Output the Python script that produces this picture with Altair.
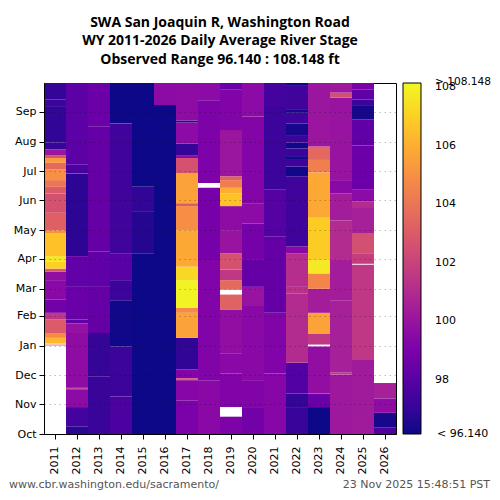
import altair as alt
import pandas as pd

# ---------------- data ----------------
years = list(range(2011, 2027))
month_names = ["Oct", "Nov", "Dec", "Jan", "Feb", "Mar", "Apr", "May", "Jun", "Jul", "Aug", "Sep"]
month_start_days = [0, 31, 61, 92, 123, 151, 182, 212, 243, 273, 304, 335]
legend_values = [98, 100, 102, 104, 106, 108]
stage_min, stage_max = 96.14, 108.148
range_labels = ["> 108.148", "< 96.140"]

# (start day of water year, daily average stage ft); None = missing
wy2011 = [(0, None), (92, 103.8), (93, None), (94, 106.3), (100, 104.8), (105, 103.0), (119, 101.5),
          (126, 98.8), (140, 99.5), (160, 99.8), (169, 103.0), (172, 107.0), (179, 107.6), (185, 106.6),
          (209, 105.0), (212, 103.2), (230, 102.6), (250, 103.0), (257, 104.0), (264, 105.0),
          (275, 103.6), (282, 105.3), (287, 102.7), (290, 100.1), (296, 97.0), (303, 96.9),
          (341, 97.2), (348, 97.0)]
wy2012 = [(0, 96.7), (8, 97.4), (28, 99.6), (46, 99.8), (47, 101.0), (49, 99.7), (105, 99.9),
          (115, 98.2), (119, 98.5), (153, 98.3), (185, 96.8), (271, 97.6), (280, 98.1)]
wy2013 = [(0, 97.1), (60, 97.0), (105, 98.4), (153, 98.2), (190, 98.4), (320, 98.6)]
wy2014 = [(0, 97.6), (39, 97.2), (91, 96.2), (139, 97.2), (160, 98.0), (188, 97.3), (323, 96.14)]
wy2015 = [(0, 96.14), (188, 96.6), (231, 96.9), (257, 96.14)]
wy2016 = [(0, 96.14), (342, 99.6)]
wy2017 = [(0, 99.0), (35, 99.4), (56, 103.3), (58, 99.3), (67, 96.9), (100, 105.6), (126, 104.8),
          (131, 108.0), (160, 107.2), (174, 105.8), (212, 104.9), (237, 103.0), (240, 105.6),
          (271, 102.6), (287, 99.5), (290, 97.0), (302, 99.6), (324, 96.5), (326, 99.7)]
wy2018 = [(0, 99.5), (56, 99.2), (181, 98.9), (256, None), (261, 99.1), (347, 99.6)]
wy2019 = [(0, 99.1), (18, None), (28, 99.2), (63, 99.5), (84, 99.8), (129, 103.3), (145, None),
          (150, 103.6), (160, 101.5), (171, 102.6), (188, 100.0), (212, 99.7), (237, 106.6),
          (250, 106.0), (256, 104.3), (264, 103.3), (268, 100.1), (316, 99.2), (358, 98.5)]
wy2020 = [(0, 98.8), (28, 99.2), (56, 99.5), (133, 100.0), (153, 98.4), (181, 98.9), (219, 99.6),
          (240, 99.3), (330, 99.6)]
wy2021 = [(0, 99.4), (63, 99.2), (126, 98.4), (205, 97.9), (254, 97.2), (340, 97.4)]
wy2022 = [(0, 97.1), (28, 97.0), (42, 97.8), (74, 101.0), (146, 101.3), (153, 101.1), (188, 99.5),
          (195, 97.3), (268, 96.2), (278, 97.2), (285, 96.3), (289, 97.2), (297, 96.2), (303, 97.2),
          (310, 96.3), (323, 97.3), (334, 96.3), (337, 97.3), (362, 96.2)]
wy2023 = [(0, 96.14), (28, 98.5), (42, 99.8), (91, None), (93, 101.5), (104, 105.6), (126, 100.4),
          (151, 104.6), (167, 107.7), (181, 106.9), (225, 105.8), (272, 104.4), (285, 103.5),
          (299, 100.1)]
wy2024 = [(0, 100.2), (62, 101.5), (64, 100.5), (139, 100.4), (181, 101.0), (222, 100.4),
          (250, 99.5), (264, 100.0), (350, 102.5), (355, 100.2)]
wy2025 = [(0, 100.3), (77, 101.5), (176, None), (177, 101.8), (188, 102.5), (209, 100.5),
          (236, 101.0), (242, 99.6), (254, 98.6), (300, 98.2), (327, 96.3), (342, 97.2),
          (348, 98.2), (358, 99.0)]
wy2026 = [(0, 97.6), (7, 96.3), (22, 99.7), (37, 100.5)]
last_day_2026 = 53

series = [wy2011, wy2012, wy2013, wy2014, wy2015, wy2016, wy2017, wy2018, wy2019, wy2020,
          wy2021, wy2022, wy2023, wy2024, wy2025, wy2026]

rows = []
for yr, segs in zip(years, series):
    end_of_year = last_day_2026 if yr == 2026 else 365
    for i, (start, val) in enumerate(segs):
        end = segs[i + 1][0] if i + 1 < len(segs) else end_of_year
        if val is not None:
            rows.append({"year": yr, "start": start, "end": end, "stage": val})
df = pd.DataFrame(rows)

footer = pd.DataFrame({"t": ["www.cbr.washington.edu/sacramento/"]})
stamp = pd.DataFrame({"t": ["23 Nov 2025 15:48:51 PST"]})

# ---------------- chart ----------------
W, H = 352, 351
color_scale = alt.Scale(scheme="plasma", domain=[stage_min, stage_max], clamp=True)

month_expr = ("[" + ",".join("'%s'" % m for m in month_names) + "][indexof(["
              + ",".join(str(d) for d in month_start_days) + "], datum.value)]")

heat = alt.Chart(df).mark_rect().encode(
    x=alt.X("year:O", scale=alt.Scale(domain=years, paddingInner=0, paddingOuter=0),
            axis=alt.Axis(title=None, labelAngle=270, labelFontSize=11, labelFont="DejaVu Sans",
                          labelColor="black", tickColor="black", tickSize=5, labelPadding=7,
                          domainColor="black", grid=False)),
    y=alt.Y("start:Q", scale=alt.Scale(domain=[0, 365], nice=False, zero=False),
            axis=alt.Axis(title=None, values=month_start_days, labelExpr=month_expr,
                          labelFontSize=11, labelFont="DejaVu Sans", labelColor="black",
                          tickColor="black", tickSize=5, labelPadding=3, domainColor="black",
                          grid=True, gridColor="black", gridOpacity=0.25, gridDash=[1.5, 3.5],
                          zindex=1)),
    y2="end:Q",
    color=alt.Color("stage:Q", scale=color_scale,
                    legend=alt.Legend(type="gradient", title=None, offset=7, gradientLength=H,
                                      gradientThickness=18,
                                      gradientStrokeColor="black", gradientStrokeWidth=1,
                                      values=legend_values, format="d",
                                      labelOverlap=False, labelFontSize=11,
                                      labelFont="DejaVu Sans", labelColor="black",
                                      labelOffset=14)),
)

top_lbl = alt.Chart(pd.DataFrame({"t": [range_labels[0]]})).mark_text(
    align="left", baseline="middle", fontSize=10.6, font="DejaVu Sans", color="black").encode(
    x=alt.value(391), y=alt.value(-1), text="t:N")
bot_lbl = alt.Chart(pd.DataFrame({"t": [range_labels[1]]})).mark_text(
    align="left", baseline="middle", fontSize=11, font="DejaVu Sans", color="black").encode(
    x=alt.value(393), y=alt.value(H), text="t:N")

foot_left = alt.Chart(footer).mark_text(align="left", baseline="middle", fontSize=11,
                                        font="DejaVu Sans", color="#555555").encode(
    x=alt.value(-35), y=alt.value(402), text="t:N")
foot_right = alt.Chart(stamp).mark_text(align="right", baseline="middle", fontSize=11,
                                        font="DejaVu Sans", color="#555555").encode(
    x=alt.value(446), y=alt.value(402), text="t:N")

chart = alt.layer(heat, top_lbl, bot_lbl, foot_left, foot_right).properties(
    width=W, height=H,
    title=alt.Title(["SWA San Joaquin R, Washington Road",
                     "WY 2011-2026 Daily Average River Stage",
                     "Observed Range 96.140 : 108.148 ft"],
                    font="Open Sans", fontSize=14, fontWeight="bold", color="black",
                    anchor="middle", lineHeight=18.5, offset=10.5),
    autosize=alt.AutoSizeParams(type="none"),
    padding={"left": 36, "top": 75, "right": 96, "bottom": 58},
).configure_view(stroke="black", strokeWidth=1).configure_axis(labelFont="DejaVu Sans")

chart.save("out.html", embed_options={"renderer": "svg", "actions": False})
